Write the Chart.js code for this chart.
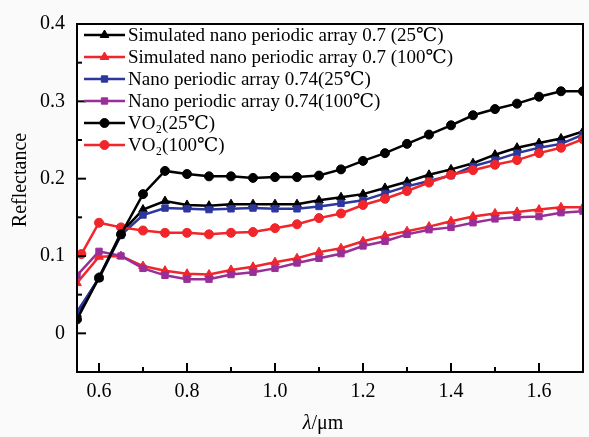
<!DOCTYPE html>
<html>
<head>
<meta charset="utf-8">
<script src="https://cdn.jsdelivr.net/npm/chart.js@4.4.1/dist/chart.umd.min.js"></script>
<style>
    body { margin: 0; background: #fafafa; }
    #wrap { width: 589px; height: 437px; }
</style>
</head>
<body>
<div id="wrap"><canvas id="reflectChart" width="589" height="437"></canvas></div>
<script>
// wavelength grid (um) shared by most curves
const wavelength = [0.55, 0.60, 0.65, 0.70, 0.75, 0.80, 0.85, 0.90, 0.95, 1.00, 1.05, 1.10,
                    1.15, 1.20, 1.25, 1.30, 1.35, 1.40, 1.45, 1.50, 1.55, 1.60, 1.65, 1.70];
// VO2 at 100C starts a little later
const wavelengthVO2Hot = [0.56, 0.60, 0.65, 0.70, 0.75, 0.80, 0.85, 0.90, 0.95, 1.00, 1.05, 1.10,
                          1.15, 1.20, 1.25, 1.30, 1.35, 1.40, 1.45, 1.50, 1.55, 1.60, 1.65, 1.70];

const simArray25  = [0.025, 0.072, 0.130, 0.160, 0.171, 0.166, 0.165, 0.167, 0.167, 0.167, 0.167, 0.172,
                     0.176, 0.180, 0.188, 0.196, 0.205, 0.212, 0.220, 0.231, 0.240, 0.246, 0.252, 0.261];
const simArray100 = [0.065, 0.099, 0.100, 0.087, 0.081, 0.077, 0.076, 0.082, 0.086, 0.092, 0.097, 0.105,
                     0.110, 0.119, 0.126, 0.132, 0.138, 0.145, 0.151, 0.155, 0.157, 0.160, 0.163, 0.163];
const nanoArray25  = [0.028, 0.071, 0.127, 0.153, 0.162, 0.161, 0.160, 0.161, 0.162, 0.161, 0.161, 0.164,
                      0.168, 0.172, 0.181, 0.190, 0.197, 0.204, 0.216, 0.224, 0.233, 0.240, 0.245, 0.257];
const nanoArray100 = [0.075, 0.106, 0.100, 0.084, 0.075, 0.070, 0.070, 0.076, 0.079, 0.084, 0.091, 0.097,
                      0.103, 0.113, 0.119, 0.128, 0.134, 0.137, 0.143, 0.148, 0.150, 0.151, 0.156, 0.158];
const vo2Cold = [0.018, 0.072, 0.128, 0.180, 0.210, 0.206, 0.203, 0.203, 0.201, 0.202, 0.202, 0.204,
                 0.212, 0.223, 0.233, 0.245, 0.257, 0.269, 0.282, 0.290, 0.297, 0.306, 0.313, 0.313];
const vo2Hot  = [0.1025, 0.143, 0.137, 0.133, 0.130, 0.130, 0.128, 0.130, 0.131, 0.136, 0.141, 0.149,
                 0.155, 0.166, 0.174, 0.184, 0.195, 0.205, 0.211, 0.218, 0.224, 0.233, 0.240, 0.251];

const seriesLabels = [
    'Simulated nano periodic array 0.7 (25\u2103)',
    'Simulated nano periodic array 0.7 (100\u2103)',
    'Nano periodic array 0.74(25\u2103)',
    'Nano periodic array 0.74(100\u2103)',
    'VO\u2082(25\u2103)',
    'VO\u2082(100\u2103)'
];

const xTickValues = [0.6, 0.7, 0.8, 0.9, 1.0, 1.1, 1.2, 1.3, 1.4, 1.5, 1.6];
const xTickLabels = ['0.6', '', '0.8', '', '1.0', '', '1.2', '', '1.4', '', '1.6'];
const yTickValues = [0, 0.05, 0.1, 0.15, 0.2, 0.25, 0.3, 0.35];
const yTickLabels = ['0', '', '0.1', '', '0.2', '', '0.3', ''];
const yTopLabel = '0.4';

const SERIF = '"Liberation Serif", "DejaVu Serif", serif';

function pts(xs, ys) {
    return ys.map((v, i) => ({ x: xs[i], y: v }));
}

function makeSet(label, xs, ys, color, style, radius) {
    return {
        label: label,
        data: pts(xs, ys),
        borderColor: color,
        backgroundColor: color,
        borderWidth: 2.5,
        pointStyle: style,
        pointRadius: radius,
        pointBorderWidth: 1,
        pointBackgroundColor: color,
        pointBorderColor: color,
        tension: 0,
        clip: 0
    };
}

const datasets = [
    makeSet(seriesLabels[4], wavelength, vo2Cold, '#000000', 'circle', 4.5),
    makeSet(seriesLabels[5], wavelengthVO2Hot, vo2Hot, '#f0262b', 'circle', 4.5),
    makeSet(seriesLabels[2], wavelength, nanoArray25, '#2c369c', 'rect', 4.5),
    makeSet(seriesLabels[0], wavelength, simArray25, '#000000', 'triangle', 5),
    makeSet(seriesLabels[3], wavelength, nanoArray100, '#9a2e98', 'rect', 4.5),
    makeSet(seriesLabels[1], wavelength, simArray100, '#f0262b', 'triangle', 5)
];

// Origin-like frame: white plot area, black box, inward ticks, titles, legend
const framePlugin = {
    id: 'frame',
    beforeDraw(chart) {
        const { ctx, chartArea: a } = chart;
        ctx.save();
        ctx.fillStyle = '#ffffff';
        ctx.fillRect(a.left, a.top, a.right - a.left, a.bottom - a.top);
        ctx.restore();
    },
    afterDraw(chart) {
        const { ctx, chartArea: a, scales } = chart;
        ctx.save();
        ctx.strokeStyle = '#000';
        ctx.lineWidth = 2;
        ctx.strokeRect(a.left, a.top, a.right - a.left, a.bottom - a.top);

        // inward ticks
        ctx.lineWidth = 2;
        xTickValues.forEach((v, i) => {
            const px = scales.x.getPixelForValue(v);
            const len = xTickLabels[i] ? 9 : 5;
            ctx.beginPath();
            ctx.moveTo(px, a.bottom);
            ctx.lineTo(px, a.bottom - len);
            ctx.stroke();
        });
        yTickValues.forEach((v, i) => {
            const py = scales.y.getPixelForValue(v);
            const len = yTickLabels[i] ? 9 : 5;
            ctx.beginPath();
            ctx.moveTo(a.left, py);
            ctx.lineTo(a.left + len, py);
            ctx.stroke();
        });

        // top y label sits on the frame corner
        ctx.fillStyle = '#000';
        ctx.font = '20px ' + SERIF;
        ctx.textAlign = 'right';
        ctx.textBaseline = 'middle';
        ctx.fillText(yTopLabel, a.left - 12, scales.y.getPixelForValue(0.4));

        // axis titles
        ctx.save();
        ctx.translate(21, 180);
        ctx.rotate(-Math.PI / 2);
        ctx.textAlign = 'center';
        ctx.fillText('Reflectance', 0, 0);
        ctx.restore();

        ctx.textAlign = 'left';
        ctx.font = 'italic 20px ' + SERIF;
        const lam = '\u03bb';
        ctx.font = '20px ' + SERIF;
        const rest = '/\u03bcm';
        const restW = ctx.measureText(rest).width;
        ctx.font = 'italic 20px ' + SERIF;
        const lamW = ctx.measureText(lam).width;
        const startX = 323 - (lamW + restW) / 2;
        ctx.fillText(lam, startX, 424);
        ctx.font = '20px ' + SERIF;
        ctx.fillText(rest, startX + lamW, 424);

        // legend
        const order = [3, 5, 2, 4, 0, 1];
        ctx.font = '19px ' + SERIF;
        order.forEach((di, row) => {
            const ds = chart.data.datasets[di];
            const y = 35 + row * 22;
            ctx.strokeStyle = ds.borderColor;
            ctx.fillStyle = ds.borderColor;
            ctx.lineWidth = 2.5;
            ctx.beginPath();
            ctx.moveTo(84, y);
            ctx.lineTo(125, y);
            ctx.stroke();
            ctx.lineWidth = 1;
            Chart.helpers.drawPoint(ctx, {
                pointStyle: ds.pointStyle,
                radius: ds.pointRadius,
                borderWidth: 1,
                rotation: 0
            }, 104.5, y);
            ctx.fillStyle = '#000';
            ctx.textAlign = 'left';
            ctx.textBaseline = 'middle';
            ctx.fillText(ds.label, 128, y + 1);
        });
        ctx.restore();
    }
};

new Chart(document.getElementById('reflectChart'), {
    type: 'line',
    data: { datasets: datasets },
    options: {
        responsive: false,
        animation: false,
        layout: { padding: { left: 0, right: 4, top: 15, bottom: 0 } },
        plugins: {
            legend: { display: false },
            tooltip: { enabled: false }
        },
        scales: {
            x: {
                type: 'linear',
                min: 0.55,
                max: 1.7,
                afterBuildTicks: (scale) => { scale.ticks = xTickValues.map(v => ({ value: v })); },
                afterFit: (scale) => { scale.height = 65; },
                grid: { display: false, drawTicks: false },
                border: { display: false },
                ticks: {
                    color: '#000',
                    padding: 8,
                    maxRotation: 0,
                    autoSkip: false,
                    font: { family: SERIF, size: 20 },
                    callback: (v, i) => xTickLabels[i]
                }
            },
            y: {
                type: 'linear',
                min: -0.05,
                max: 0.4,
                afterBuildTicks: (scale) => { scale.ticks = yTickValues.map(v => ({ value: v })); },
                afterFit: (scale) => { scale.width = 77; },
                grid: { display: false, drawTicks: false },
                border: { display: false },
                ticks: {
                    color: '#000',
                    padding: 12,
                    autoSkip: false,
                    font: { family: SERIF, size: 20 },
                    callback: (v, i) => yTickLabels[i]
                }
            }
        }
    },
    plugins: [framePlugin]
});
</script>
</body>
</html>
